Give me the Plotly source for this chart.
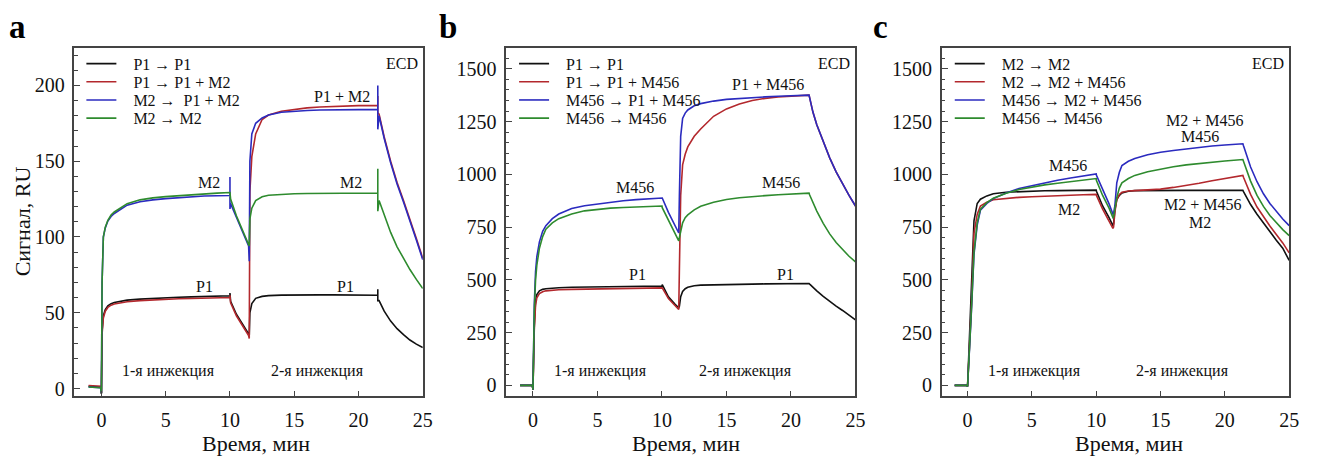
import plotly.graph_objects as go

# ---------------- data ----------------
# Panel a: time grid (min) and signals (RU)
T_A = [-1.0, -0.05, 0.0, 0.05, 0.15, 0.3, 0.5, 0.75, 1.0, 1.5, 2.0, 3.0, 4.0, 5.0, 6.0, 7.0, 8.0, 9.0,
       10.0, 10.0, 10.0, 10.05, 10.5, 11.0, 11.45, 11.5, 11.55, 11.7, 12.0, 12.5, 13.0, 14.0, 15.0, 16.0,
       17.0, 18.0, 19.0, 20.0, 21.5, 21.5, 21.5, 21.6, 22.0, 22.5, 23.0, 23.5, 24.0, 24.5, 25.0]
A_P1_P1 = [1.5, 0.8, -3.5, 38, 48, 52, 54.5, 56, 56.8, 57.7, 58.3, 59, 59.5, 59.9, 60.2, 60.5, 60.8, 61,
           61.2, 63, 58.5, 57.5, 49, 42.5, 36, 35, 50, 56, 59.5, 60.8, 61.3, 61.6, 61.8, 61.8,
           61.8, 61.8, 61.7, 61.6, 61.5, 65.5, 58, 58, 51, 44.5, 39.5, 35.5, 32, 29.3, 27]
A_P1_P1M2 = [2.0, 1.5, -3, 36, 46.5, 51, 53.5, 55, 55.8, 56.7, 57.3, 58, 58.5, 58.9, 59.2, 59.4, 59.6, 59.8,
             60.0, 61.5, 57.5, 56.5, 48, 41.5, 35, 33, 130, 153, 168, 177.5, 180.5, 183, 184.3, 185.2,
             185.8, 186.2, 186.5, 186.7, 186.8, 193, 182, 181, 166, 150, 136, 124, 112, 99, 86]
A_M2_P1M2 = [1.0, 0.5, -3, 70, 100, 106, 110.5, 113.5, 115.5, 118.5, 121, 123.2, 124.5, 125.3, 126, 126.6, 127, 127.2,
             127.4, 139.5, 118.5, 122, 113, 103, 94, 84, 150, 168, 175, 178.5, 180.5, 182.3, 183, 183.5,
             183.8, 184, 184, 184, 184, 200, 171, 180, 165, 149, 135, 123, 111, 98, 85]
A_M2_M2 = [1.0, 0.5, -3, 70, 100, 106.5, 111, 114.5, 116.5, 119.5, 122, 124.5, 125.8, 126.6, 127.3, 127.9, 128.4, 128.9,
           129.3, 129.3, 126, 125, 114, 104, 95, 94, 112, 119, 124, 126.5, 127.5, 128.2, 128.5, 128.7,
           128.8, 128.9, 129, 129, 129, 145, 117, 124, 114, 103, 93.5, 85.5, 78.5, 72, 66]

# Panels b and c: shared time grid (min)
T_BC = [-1.0, -0.05, 0.0, 0.05, 0.1, 0.2, 0.3, 0.5, 0.75, 1.0, 1.5, 2.0, 3.0, 4.0, 5.0, 6.0, 7.0, 8.0, 9.0,
        10.0, 10.02, 10.5, 11.0, 11.3, 11.35, 11.45, 11.6, 11.8, 12.0, 12.5, 13.0, 14.0, 15.0, 16.0, 17.0,
        18.0, 19.0, 20.0, 21.4, 21.45, 21.7, 22.0, 22.5, 23.0, 23.5, 24.0, 24.5, 25.0]
B_P1_P1 = [0, 0, -20, 150, 280, 400, 430, 448, 455, 458, 461, 463, 465, 466, 467, 468, 469, 469, 470,
           471, 478, 420, 385, 368, 375, 420, 445, 458, 465, 472, 475, 477, 478, 479, 480,
           481, 482, 482, 483, 480, 464, 448, 422, 398, 376, 355, 332, 310]
B_P1_P1M456 = [0, 0, -20, 140, 260, 380, 415, 435, 444, 448, 451, 453, 455, 456, 457, 458, 458, 459, 459,
               460, 462, 412, 378, 360, 550, 900, 1045, 1095, 1130, 1180, 1215, 1275, 1310, 1333, 1350,
               1360, 1366, 1370, 1375, 1362, 1295, 1235, 1152, 1078, 1012, 955, 900, 850]
B_M456_P1M456 = [0, 0, -20, 200, 380, 540, 610, 680, 730, 757, 790, 812, 838, 851, 860, 868, 875, 880, 883,
                 886, 888, 820, 760, 722, 900, 1180, 1265, 1290, 1305, 1325, 1335, 1347, 1355, 1360, 1364,
                 1367, 1370, 1372, 1375, 1362, 1295, 1235, 1152, 1078, 1012, 955, 900, 850]
B_M456_M456 = [0, 0, -20, 180, 350, 500, 570, 650, 705, 740, 770, 790, 812, 827, 835, 840, 843, 846, 848,
               850, 842, 780, 722, 685, 700, 730, 770, 795, 808, 832, 849, 868, 881, 889, 895,
               899, 903, 906, 911, 902, 864, 826, 768, 718, 677, 643, 612, 585]

C_M2_M2 = [0, 0, -5, 80, 170, 330, 480, 780, 862, 882, 898, 908, 915, 918, 921, 922, 923, 924, 924,
           925, 920, 850, 795, 757, 765, 830, 880, 900, 912, 920, 923, 924, 924, 924, 924,
           924, 924, 924, 924, 918, 888, 857, 811, 768, 727, 688, 650, 592]
C_M2_M2M456 = [0, 0, -5, 60, 130, 270, 380, 720, 810, 850, 868, 880, 887, 891, 894, 897, 899, 901, 903,
               905, 900, 835, 780, 744, 750, 820, 880, 905, 915, 921, 923, 926, 930, 938, 947,
               958, 970, 981, 995, 986, 945, 905, 845, 797, 755, 715, 675, 628]
C_M456_M2M456 = [0, 0, -5, 50, 110, 230, 350, 620, 760, 830, 862, 885, 912, 933, 947, 960, 972, 983, 993,
                 1002, 995, 930, 860, 812, 815, 850, 960, 1010, 1042, 1062, 1075, 1093, 1105, 1113, 1121,
                 1128, 1134, 1139, 1145, 1135, 1085, 1035, 965, 908, 862, 823, 788, 757]
C_M456_M456 = [0, 0, -5, 50, 110, 230, 360, 630, 770, 835, 866, 887, 910, 928, 940, 950, 958, 966, 973,
               980, 970, 900, 840, 795, 798, 830, 890, 935, 960, 980, 995, 1012, 1025, 1036, 1045,
               1052, 1058, 1063, 1070, 1062, 1015, 968, 900, 848, 805, 770, 738, 710]

NAMES_A = ["P1 → P1", "P1 → P1 + M2", "M2 →  P1 + M2", "M2 → M2"]
NAMES_B = ["P1 → P1", "P1 → P1 + M456", "M456 → P1 + M456", "M456 → M456"]
NAMES_C = ["M2 → M2", "M2 → M2 + M456", "M456 → M2 + M456", "M456 → M456"]

X_TICKS = [0, 5, 10, 15, 20, 25]
Y_TICKS_A = [0, 50, 100, 150, 200]
Y_TICKS_BC = [0, 250, 500, 750, 1000, 1250, 1500]

# curve labels: (text, time, signal)
LABELS_A = [("M2", 8.4, 136), ("M2", 19.4, 136), ("P1 + M2", 18.7, 193), ("P1", 8.0, 67), ("P1", 19.0, 67),
            ("1-я инжекция", 5.2, 11.8), ("2-я инжекция", 16.8, 11.8)]
LABELS_B = [("P1 + M456", 18.2, 1426), ("M456", 7.9, 938), ("M456", 19.2, 961), ("P1", 8.1, 525),
            ("P1", 19.6, 525), ("1-я инжекция", 5.2, 70), ("2-я инжекция", 16.5, 70)]
LABELS_C = [("M456", 7.8, 1040), ("M2", 7.9, 835), ("M2 + M456", 18.4, 1257), ("M456", 18.1, 1177),
            ("M2 + M456", 18.3, 858), ("M2", 18.1, 774), ("1-я инжекция", 5.2, 70), ("2-я инжекция", 16.7, 70)]

# ---------------- styling ----------------
W, H = 1322, 458
FONT = "'Liberation Serif', 'Times New Roman', serif"
COLORS = ["#111111", "#b3282d", "#2b2bbf", "#2e8b2e"]
FRAME = "#444444"

X_DOM = [(75 / W, 426 / W), (510 / W, 862 / W), (949 / W, 1299 / W)]
Y_DOM = (1 - 399 / H, 1 - 48 / H)
X_RANGES = [(-2.1, 25), (-2.08, 25), (-2.0, 25)]
Y_RANGES = [(-5.2, 224.9), (-52, 1600), (-52, 1600)]
MINOR = [10, 50, 50]
LEG_X = [82, 518, 957]          # left edge of each panel's legend block (px)
LEG_ROW0, LEG_ROW_STEP = 63, 18.3  # centre of first legend row and row spacing (px)
LEG_OFFSET = 16                 # distance from legend box top to item centre (px)

fig = go.Figure()

panels = [
    (T_A, [A_P1_P1, A_P1_P1M2, A_M2_P1M2, A_M2_M2], NAMES_A, LABELS_A, Y_TICKS_A),
    (T_BC, [B_P1_P1, B_P1_P1M456, B_M456_P1M456, B_M456_M456], NAMES_B, LABELS_B, Y_TICKS_BC),
    (T_BC, [C_M2_M2, C_M2_M2M456, C_M456_M2M456, C_M456_M456], NAMES_C, LABELS_C, Y_TICKS_BC),
]

annotations = []
layout_axes = {}
for i, (t, series, names, labels, yticks) in enumerate(panels):
    sfx = "" if i == 0 else str(i + 1)
    for j, (vals, name) in enumerate(zip(series, names)):
        k = i * 4 + j + 1
        leg = "legend" if k == 1 else "legend" + str(k)
        fig.add_trace(go.Scatter(
            x=t, y=vals, mode="lines", name="\u00a0\u00a0\u00a0" + name,
            line=dict(color=COLORS[j], width=1.6),
            xaxis="x" + sfx, yaxis="y" + sfx, legend=leg, showlegend=True,
        ))
        top_px = LEG_ROW0 + j * LEG_ROW_STEP - LEG_OFFSET
        layout_axes[leg] = dict(
            x=LEG_X[i] / W, y=1 - top_px / H, xanchor="left", yanchor="top",
            bgcolor="rgba(0,0,0,0)", borderwidth=0, itemwidth=30, tracegroupgap=0,
            font=dict(family=FONT, size=16, color="#111"),
        )
    layout_axes["xaxis" + sfx] = dict(
        domain=X_DOM[i], range=X_RANGES[i], anchor="y" + sfx,
        tickvals=X_TICKS, ticks="inside", ticklen=6, tickwidth=1.2, tickcolor=FRAME,
        showline=True, linecolor=FRAME, linewidth=1.5, mirror=True, showgrid=False, zeroline=False,
        tickfont=dict(family=FONT, size=20, color="#111"), ticklabelstandoff=5,
    )
    layout_axes["yaxis" + sfx] = dict(
        domain=Y_DOM, range=Y_RANGES[i], anchor="x" + sfx,
        tickvals=yticks, ticks="inside", ticklen=6, tickwidth=1.2, tickcolor=FRAME,
        minor=dict(dtick=MINOR[i], ticks="inside", ticklen=3.5, tickcolor=FRAME, tickwidth=1),
        showline=True, linecolor=FRAME, linewidth=1.5, mirror=True, showgrid=False, zeroline=False,
        tickfont=dict(family=FONT, size=20, color="#111"), ticklabelstandoff=4,
    )
    for text, tx, ty in labels:
        annotations.append(dict(
            text=text, x=tx, y=ty, xref="x" + sfx, yref="y" + sfx, showarrow=False,
            xanchor="center", yanchor="middle", font=dict(family=FONT, size=16, color="#111"),
        ))
    annotations.append(dict(
        text="ECD", x=1, y=1, xref="x" + sfx + " domain", yref="y" + sfx + " domain", showarrow=False,
        xanchor="right", yanchor="top", xshift=-3, yshift=-5, font=dict(family=FONT, size=16, color="#111"),
    ))

# panel letters
for letter, px in [("a", 18), ("b", 451), ("c", 887)]:
    annotations.append(dict(
        text="<b>" + letter + "</b>", x=px / W, y=1 - 27 / H, xref="paper", yref="paper", showarrow=False,
        xanchor="center", yanchor="middle", font=dict(family=FONT, size=33, color="#000"),
    ))

# axis titles
for px in [258, 691, 1138]:
    annotations.append(dict(
        text="Время, мин", x=px / W, y=1 - 446 / H, xref="paper", yref="paper", showarrow=False,
        xanchor="center", yanchor="middle", font=dict(family=FONT, size=22, color="#111"),
    ))
annotations.append(dict(
    text="Сигнал, RU", x=23 / W, y=1 - 223 / H, xref="paper", yref="paper", showarrow=False,
    textangle=-90, xanchor="center", yanchor="middle", font=dict(family=FONT, size=22, color="#111"),
))

fig.update_layout(
    width=W, height=H, margin=dict(l=0, r=0, t=0, b=0),
    paper_bgcolor="white", plot_bgcolor="white",
    font=dict(family=FONT),
    annotations=annotations, showlegend=True,
    **layout_axes,
)

fig.write_html("out.html", config={"displayModeBar": False})
